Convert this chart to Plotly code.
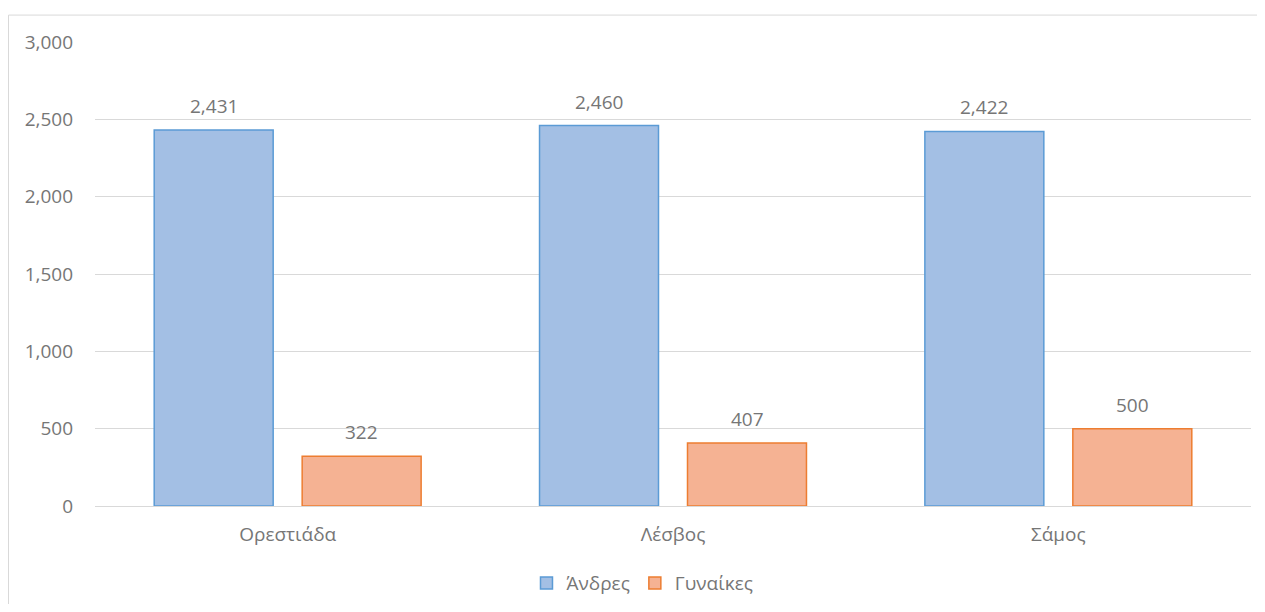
import plotly.graph_objects as go

categories = ["Ορεστιάδα", "Λέσβος", "Σάμος"]
men = [2431, 2460, 2422]
women = [322, 407, 500]
series_names = ["Άνδρες", "Γυναίκες"]
y_ticks = [0, 500, 1000, 1500, 2000, 2500, 3000]

FONT = "Open Sans, Liberation Sans, sans-serif"
TXT = "#767676"
FS = 19

fig = go.Figure()
fig.add_trace(go.Bar(
    name=series_names[0], x=categories, y=men,
    marker=dict(color="#a3bfe4", line=dict(color="#5b9bd5", width=1.5)),
))
fig.add_trace(go.Bar(
    name=series_names[1], x=categories, y=women,
    marker=dict(color="#f5b293", line=dict(color="#ed7d31", width=1.5)),
))

# value labels above bars (positioned from the data values)
annotations = []
for vals, shift in ((men, -74), (women, 74)):
    for c, v in zip(categories, vals):
        annotations.append(dict(x=c, y=v, xref="x", yref="y", text=f"{v:,}",
                                showarrow=False, xshift=shift, yshift=9,
                                yanchor="bottom",
                                font=dict(size=FS, color=TXT, family=FONT)))

fig.update_layout(
    width=1249, height=596, autosize=False,
    margin=dict(l=87, r=6, t=34, b=98, autoexpand=False),
    paper_bgcolor="white", plot_bgcolor="white",
    barmode="group", bargap=0.232, bargroupgap=0.196,
    font=dict(family=FONT, color=TXT, size=FS),
    separators=".,",
    showlegend=True,
    legend=dict(orientation="h", x=0.508, xanchor="center", xref="container",
                y=0.035, yanchor="middle", yref="container",
                font=dict(size=FS, color=TXT), itemwidth=30, traceorder="normal"),
    xaxis=dict(showgrid=False, showline=True, linecolor="#d9d9d9", linewidth=1,
               ticks="", tickfont=dict(size=FS, color=TXT), ticklabelstandoff=11),
    yaxis=dict(range=[0, 3000], tickvals=y_ticks, tickformat=",d",
               showgrid=True, gridcolor="#d9d9d9", gridwidth=1,
               zeroline=False, showline=False, ticks="",
               tickfont=dict(size=FS, color=TXT), ticklabelstandoff=21),
    annotations=annotations,
    shapes=[dict(type="rect", xref="paper", yref="paper",
                 x0=-0.0748, x1=1.02, y0=-0.24, y1=1.058,
                 line=dict(color="#d9d9d9", width=1), fillcolor="rgba(0,0,0,0)",
                 layer="below")],
)

fig.write_html("out.html")
